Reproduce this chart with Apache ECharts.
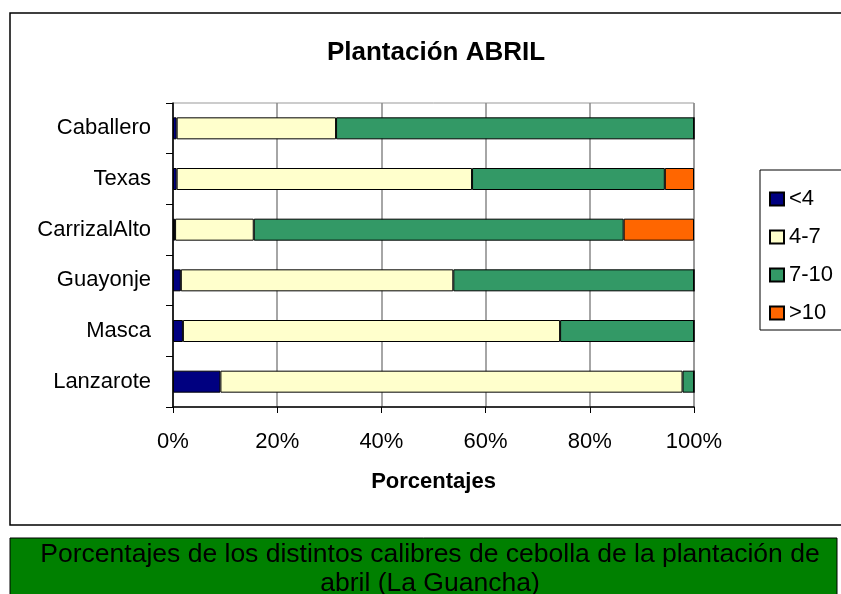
<!DOCTYPE html>
<html>
<head>
<meta charset="utf-8">
<script src="https://cdn.jsdelivr.net/npm/echarts@6/dist/echarts.min.js"></script>
<style>
  html, body { margin: 0; padding: 0; background: #fff; }
  #chart { width: 841px; height: 594px; }
</style>
</head>
<body>
<div id="chart"></div>
<script>
// categorias (de abajo a arriba) y porcentajes por calibre
var categorias = ['Lanzarote', 'Masca', 'Guayonje', 'CarrizalAlto', 'Texas', 'Caballero'];
var calibres = ['<4', '4-7', '7-10', '>10'];
var menos4 = [9.1, 1.9, 1.5, 0.4, 0.7, 0.7];
var de4a7 = [88.7, 72.4, 52.3, 15.1, 56.7, 30.6];
var de7a10 = [2.2, 25.7, 46.2, 71.0, 37.0, 68.7];
var mas10 = [0, 0, 0, 13.5, 5.6, 0];
var ticks = [0, 20, 40, 60, 80, 100];

var colores = ['#000080', '#FFFFCC', '#339966', '#FF6600'];
var fuente = '"Liberation Sans", Arial, sans-serif';

var datos = [menos4, de4a7, de7a10, mas10];
var series = [];
for (var i = 0; i < calibres.length; i++) {
    series.push({
        name: calibres[i],
        type: 'bar',
        stack: 'total',
        barWidth: 22,
        itemStyle: { color: colores[i], borderColor: '#000', borderWidth: 1 },
        emphasis: { disabled: true },
        data: datos[i]
    });
}

var myChart = echarts.init(document.getElementById('chart'));
var option = {
    animation: false,
    backgroundColor: '#fff',
    textStyle: { fontFamily: fuente },
    title: {
        text: 'Plantación ABRIL',
        left: 431,
        textAlign: 'center',
        top: 35,
        textStyle: { fontSize: 26, fontWeight: 'bold', color: '#000', fontFamily: fuente }
    },
    legend: {
        orient: 'vertical',
        left: 769,
        top: 188,
        padding: 0,
        itemWidth: 14,
        itemHeight: 13,
        itemGap: 16,
        icon: 'rect',
        data: calibres,
        textStyle: { fontSize: 22, color: '#000', lineHeight: 22, fontFamily: fuente }
    },
    grid: {
        left: 173,
        top: 103,
        right: 147,
        bottom: 187,
        show: true,
        borderColor: '#999',
        borderWidth: 1,
        containLabel: false
    },
    xAxis: {
        type: 'value',
        min: ticks[0],
        max: ticks[ticks.length - 1],
        interval: 20,
        name: 'Porcentajes',
        nameLocation: 'middle',
        nameGap: 64,
        nameTextStyle: { fontSize: 22, fontWeight: 'bold', color: '#000', fontFamily: fuente },
        axisLine: { show: true, lineStyle: { color: '#000', width: 1.5 } },
        axisTick: { show: true, length: 6, lineStyle: { color: '#000' } },
        axisLabel: { formatter: '{value}%', fontSize: 22, color: '#000', margin: 24, fontFamily: fuente },
        splitLine: { show: true, lineStyle: { color: '#888', width: 1.5 } }
    },
    yAxis: {
        type: 'category',
        data: categorias,
        axisLine: { show: true, lineStyle: { color: '#000', width: 1.5 } },
        axisTick: { show: true, length: 7, lineStyle: { color: '#000' } },
        axisLabel: { fontSize: 22, color: '#000', margin: 22, fontFamily: fuente },
        splitLine: { show: false }
    },
    graphic: [
        {
            type: 'rect',
            shape: { x: 10, y: 13, width: 850, height: 512 },
            style: { fill: 'none', stroke: '#000', lineWidth: 1.5 },
            z: 0
        },
        {
            type: 'rect',
            shape: { x: 760, y: 170, width: 100, height: 160 },
            style: { fill: 'none', stroke: '#000', lineWidth: 1 },
            z: 0
        },
        {
            type: 'rect',
            shape: { x: 10, y: 538, width: 827, height: 70 },
            style: { fill: '#008000', stroke: '#000', lineWidth: 1 },
            z: 0
        },
        {
            type: 'text',
            x: 430,
            y: 540,
            style: {
                text: 'Porcentajes de los distintos calibres de cebolla de la plantación de\nabril (La Guancha)',
                font: '26.5px "Liberation Sans", Arial, sans-serif',
                fill: '#000',
                align: 'center',
                verticalAlign: 'top',
                lineHeight: 29
            },
            z: 1
        }
    ],
    series: series
};
myChart.setOption(option);
</script>
</body>
</html>
